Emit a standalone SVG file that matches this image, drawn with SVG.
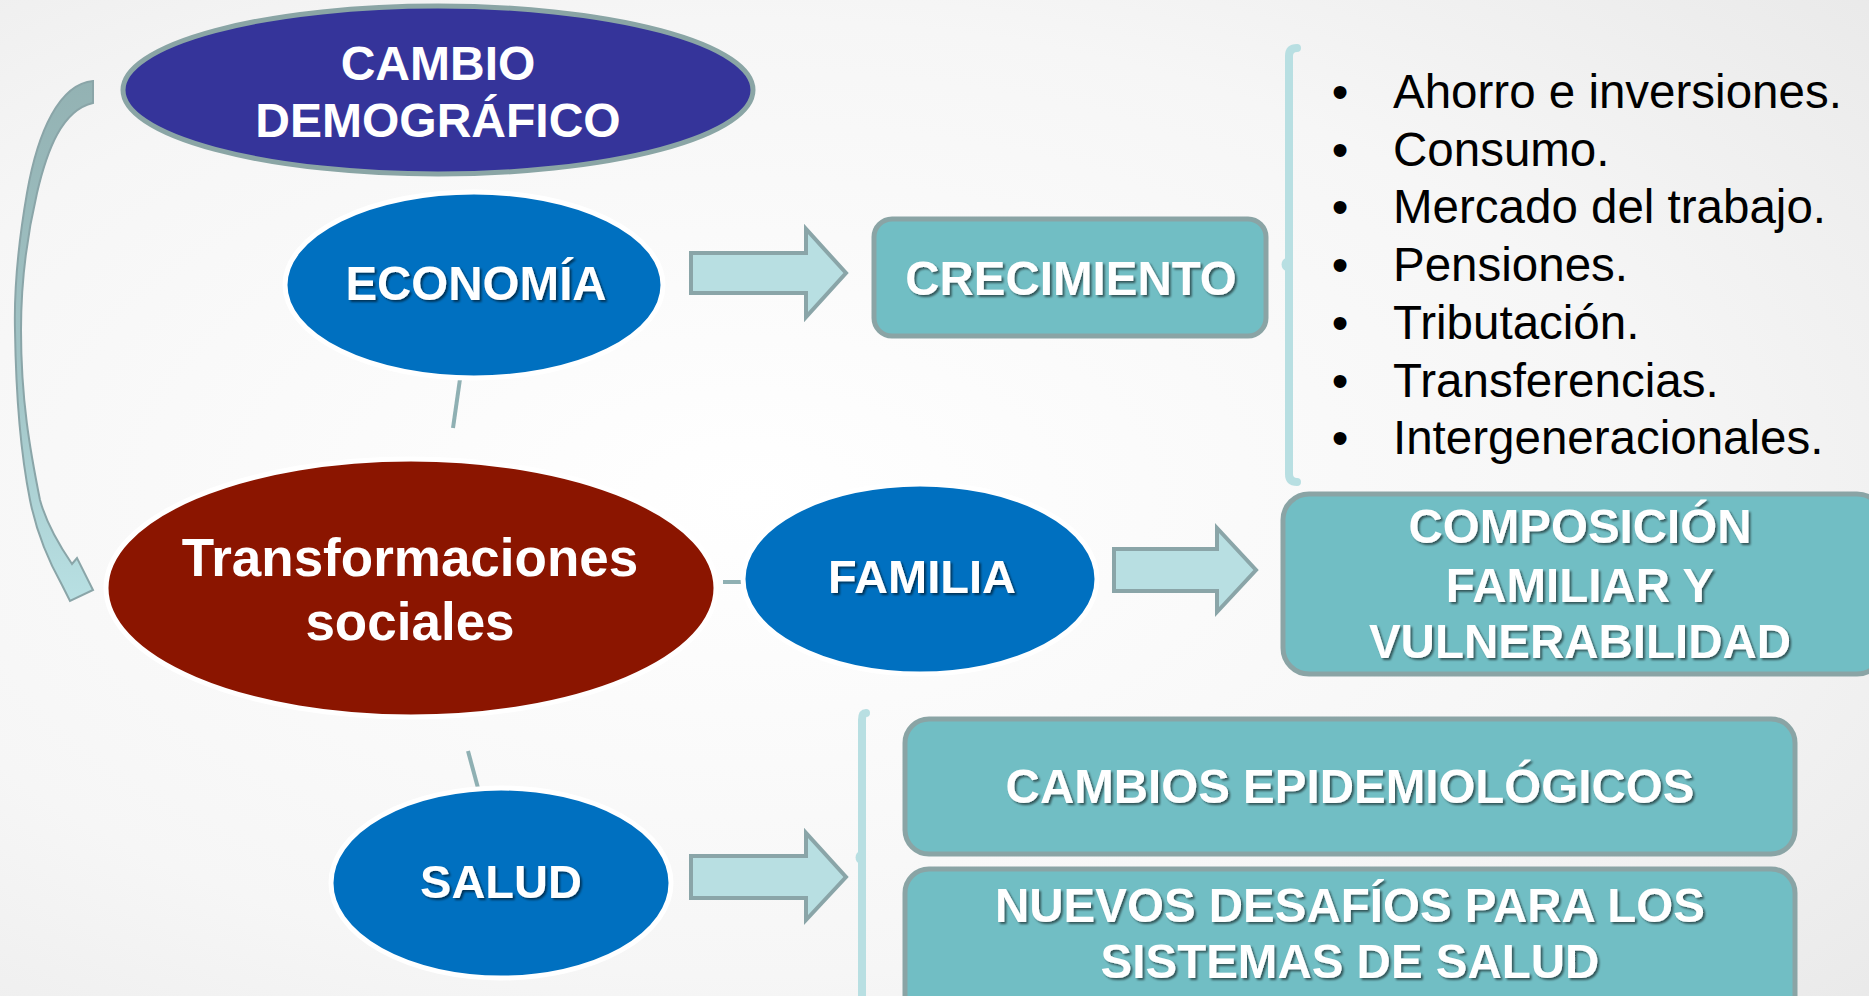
<svg xmlns="http://www.w3.org/2000/svg" width="1869" height="996" viewBox="0 0 1869 996">
<defs>
<radialGradient id="bg" cx="0.4" cy="0.5" r="0.8">
<stop offset="0" stop-color="#ffffff"/>
<stop offset="0.6" stop-color="#f6f6f6"/>
<stop offset="1" stop-color="#e9e9e9"/>
</radialGradient>
<linearGradient id="curveFill" x1="0" y1="0" x2="0" y2="1">
<stop offset="0" stop-color="#93b2b3"/>
<stop offset="0.6" stop-color="#a3c6c8"/>
<stop offset="1" stop-color="#b8e0e3"/>
</linearGradient>
<filter id="sh" x="-10%" y="-10%" width="120%" height="130%">
<feDropShadow dx="2" dy="2" stdDeviation="1" flood-color="#000" flood-opacity="0.55"/>
</filter>
</defs>
<style>
.wt{font-family:"Liberation Sans",Arial,sans-serif;font-weight:bold;fill:#fff;text-anchor:middle}
.sh{filter:url(#sh)}
.box{fill:#71bec4;stroke:#8aa4a5;stroke-width:5}
.blue{fill:#0070c0;stroke:#fff;stroke-width:5}
.conn{stroke:#8fb0b3;stroke-width:4;fill:none}
.barrow{fill:#b8dfe2;stroke:#8aa5a8;stroke-width:4;stroke-linejoin:miter}
.brace{fill:none;stroke:#b8dfe2;stroke-width:8;stroke-linecap:round}
.li{font-family:"Liberation Sans",Arial,sans-serif;font-size:47.5px;fill:#000}
</style>
<rect x="0" y="0" width="1869" height="996" fill="url(#bg)"/>

<g id="connectors">
<line class="conn" x1="460" y1="379" x2="453" y2="428"/>
<line class="conn" x1="723" y1="582" x2="741" y2="582"/>
<line class="conn" x1="468" y1="751" x2="478" y2="788"/>
<path id="curved-arrow" d="M 93,81 C 60,84 38,130 27,193 C 18,245 14,290 15,330 C 16,400 22,460 30,500 C 36,530 48,560 62,585 L 70,601 L 93,590 L 77,558 L 72,564 C 57,542 46,522 40,500 C 30,450 21,400 21,330 C 21,290 26,240 37,193 C 47,150 62,110 93,103 Z" fill="url(#curveFill)" stroke="#8aa5a8" stroke-width="2"/>
<path class="barrow" d="M 691,253 L 806,253 L 806,229 L 846,273 L 806,317 L 806,293 L 691,293 Z"/>
<path class="barrow" d="M 1114,549 L 1217,549 L 1217,528 L 1256,570 L 1217,612 L 1217,591 L 1114,591 Z"/>
<path class="barrow" d="M 691,856 L 806,856 L 806,833 L 846,877 L 806,920 L 806,898 L 691,898 Z"/>
<path class="brace" d="M 1297,48 Q 1289,48 1289,56 L 1289,474 Q 1289,482 1297,482"/>
<path d="M 1286,258 A 7,7 0 0 0 1286,271 Z" fill="#b8dfe2"/>
<path class="brace" d="M 866,713 Q 862,713 862,720 L 862,1000"/>
<path d="M 860,851 A 7,7 0 0 0 860,864 Z" fill="#b8dfe2"/>
</g>

<g id="cambio-demografico">
<ellipse cx="438" cy="90" rx="315" ry="84" fill="#35349a" stroke="#8aa5a5" stroke-width="5"/>
<text class="wt" font-size="48" x="438" y="80">CAMBIO</text>
<text class="wt" font-size="48" x="438" y="137">DEMOGRÁFICO</text>
</g>

<g id="economia">
<ellipse class="blue" cx="474" cy="285" rx="189" ry="93"/>
<text class="wt sh" font-size="47.5" x="476" y="300">ECONOMÍA</text>
</g>

<g id="crecimiento">
<rect class="box" x="874" y="219" width="392" height="117" rx="18"/>
<text class="wt sh" font-size="47.5" x="1071" y="295">CRECIMIENTO</text>
</g>

<g id="lista-crecimiento">
<text class="li" x="1340" y="108" text-anchor="middle">•</text>
<text class="li" x="1393" y="108">Ahorro e inversiones.</text>
<text class="li" x="1340" y="166" text-anchor="middle">•</text>
<text class="li" x="1393" y="166">Consumo.</text>
<text class="li" x="1340" y="223" text-anchor="middle">•</text>
<text class="li" x="1393" y="223">Mercado del trabajo.</text>
<text class="li" x="1340" y="281" text-anchor="middle">•</text>
<text class="li" x="1393" y="281">Pensiones.</text>
<text class="li" x="1340" y="339" text-anchor="middle">•</text>
<text class="li" x="1393" y="339">Tributación.</text>
<text class="li" x="1340" y="397" text-anchor="middle">•</text>
<text class="li" x="1393" y="397">Transferencias.</text>
<text class="li" x="1340" y="454" text-anchor="middle">•</text>
<text class="li" x="1393" y="454">Intergeneracionales.</text>
</g>

<g id="transformaciones-sociales">
<ellipse cx="411" cy="588" rx="305" ry="129" fill="#8b1500" stroke="#fff" stroke-width="5"/>
<text class="wt" font-size="53" x="410" y="576">Transformaciones</text>
<text class="wt" font-size="53" x="410" y="640">sociales</text>
</g>

<g id="familia">
<ellipse class="blue" cx="920" cy="579" rx="177" ry="95"/>
<text class="wt sh" font-size="47" x="922" y="593">FAMILIA</text>
</g>

<g id="composicion">
<rect class="box" x="1283" y="494" width="600" height="180" rx="26"/>
<text class="wt sh" font-size="47.5" x="1580" y="543">COMPOSICIÓN</text>
<text class="wt sh" font-size="47.5" x="1580" y="602">FAMILIAR Y</text>
<text class="wt sh" font-size="47.5" x="1580" y="658">VULNERABILIDAD</text>
</g>

<g id="salud">
<ellipse class="blue" cx="501" cy="883" rx="170" ry="95"/>
<text class="wt sh" font-size="47" x="501" y="898">SALUD</text>
</g>

<g id="cambios-epidemiologicos">
<rect class="box" x="905" y="719" width="890" height="135" rx="24"/>
<text class="wt sh" font-size="47.5" x="1350" y="803">CAMBIOS EPIDEMIOLÓGICOS</text>
</g>

<g id="nuevos-desafios">
<rect class="box" x="905" y="869" width="890" height="160" rx="24"/>
<text class="wt sh" font-size="47.5" x="1350" y="922">NUEVOS DESAFÍOS PARA LOS</text>
<text class="wt sh" font-size="47.5" x="1350" y="978">SISTEMAS DE SALUD</text>
</g>
</svg>
